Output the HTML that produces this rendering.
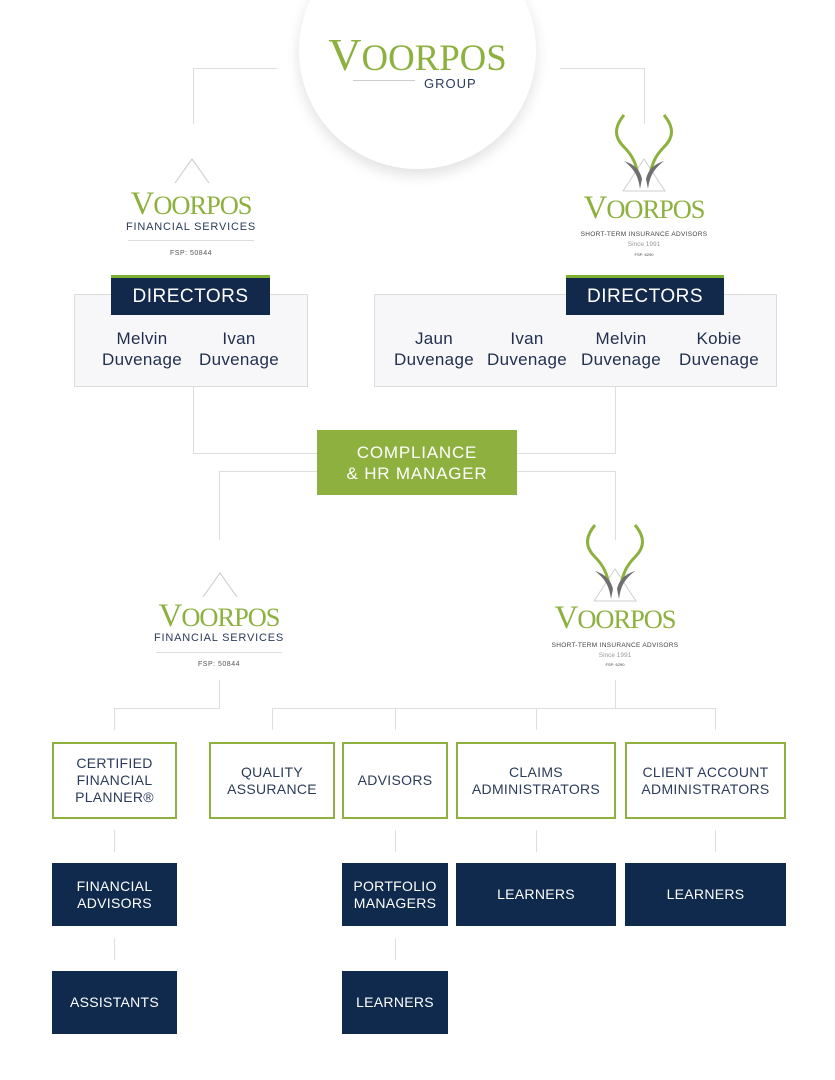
<!DOCTYPE html>
<html><head><meta charset="utf-8"><style>
body{margin:0;width:835px;height:1080px;background:#fff;position:relative;overflow:hidden;font-family:"Liberation Sans",sans-serif}
.a{position:absolute}
.l{position:absolute;background:#dedede}
.circle{position:absolute;left:299px;top:-68px;width:237px;height:237px;border-radius:50%;background:#fff;box-shadow:0 6px 14px rgba(0,0,0,0.12)}
.vp{position:absolute;font-family:"Liberation Serif",serif;color:#8db03e;text-align:center;letter-spacing:-1px;white-space:nowrap}
.vp span{font-size:0.8em}
.sm{position:absolute;text-align:center;color:#2b3b5a;white-space:nowrap}
.dbox{position:absolute;background:#f7f7f9;border:1px solid #dcdcdc}
.dh{position:absolute;background:#13294b;border-top:3px solid #7cb031;color:#fff;font-size:19px;text-align:center;line-height:37px;letter-spacing:0.5px}
.nm{position:absolute;color:#1f2f4d;font-family:"Liberation Sans Narrow","Liberation Sans",sans-serif;font-size:17px;line-height:21px;text-align:center;width:100px;letter-spacing:0.3px}
.gb{position:absolute;border:2px solid #8db03e;box-sizing:border-box;color:#2b3b5a;font-size:14px;line-height:17px;display:flex;align-items:center;justify-content:center;text-align:center;letter-spacing:0.3px}
.nb{position:absolute;background:#0f2a4c;color:#fff;font-size:14px;line-height:17px;display:flex;align-items:center;justify-content:center;text-align:center;letter-spacing:0.3px}
</style></head><body>
<div class="l" style="left:193px;top:68px;width:84px;height:1px"></div>
<div class="l" style="left:193px;top:68px;width:1px;height:56px"></div>
<div class="l" style="left:560px;top:68px;width:85px;height:1px"></div>
<div class="l" style="left:644px;top:68px;width:1px;height:56px"></div>
<div class="circle"></div>
<div class="vp" style="left:299px;width:237px;top:33px;font-size:46px;line-height:44px;letter-spacing:0">V<span>OORPOS</span></div>
<div class="a" style="left:353px;top:80px;width:62px;height:1px;background:#ccc"></div>
<div class="sm" style="left:424px;top:76px;font-size:13px;letter-spacing:1px">GROUP</div>

<svg class="a" style="left:173px;top:157px" width="38" height="28"><polyline points="2,26 19,2 36,26" fill="none" stroke="#c8c8c8" stroke-width="1"/></svg>
<div class="vp" style="left:91px;width:200px;top:188px;font-size:33px;line-height:33px">V<span>OORPOS</span></div>
<div class="sm" style="left:91px;width:200px;top:221px;font-size:11px;letter-spacing:0.8px">FINANCIAL SERVICES</div>
<div class="a" style="left:128px;top:240px;width:126px;height:1px;background:#ddd"></div>
<div class="sm" style="left:91px;width:200px;top:250px;font-size:7px;letter-spacing:0.5px;color:#555">FSP: 50844</div>

<svg class="a" style="left:604px;top:113px" width="80" height="82" viewBox="0 0 80 82">
<polyline points="19,78 40,46 61,78 19,78" fill="none" stroke="#cfcfcf" stroke-width="1"/>
<path d="M20,2 C10,14 10,24 20,34 C28,42 32,50 34,62" fill="none" stroke="#8db03e" stroke-width="3"/>
<path d="M60,2 C70,14 70,24 60,34 C52,42 48,50 46,62" fill="none" stroke="#8db03e" stroke-width="3"/>
<path d="M20,48 C30,56 34,62 36,76 L38,66 C36,58 32,52 20,48Z" fill="#6f6f6f"/>
<path d="M60,48 C50,56 46,62 44,76 L42,66 C44,58 48,52 60,48Z" fill="#6f6f6f"/>
</svg>
<div class="vp" style="left:544px;width:200px;top:192px;font-size:33px;line-height:33px">V<span>OORPOS</span></div>
<div class="sm" style="left:544px;width:200px;top:231px;font-size:6.5px;letter-spacing:0.3px;color:#444">SHORT-TERM INSURANCE ADVISORS</div>
<div class="sm" style="left:544px;width:200px;top:241px;font-size:6.5px;color:#999">Since 1991</div>
<div class="sm" style="left:544px;width:200px;top:252px;font-size:4px;color:#444">FSP: 6290</div>

<div class="dbox" style="left:74px;top:294px;width:232px;height:91px"></div>
<div class="dh" style="left:111px;top:275px;width:159px;height:37px">DIRECTORS</div>
<div class="nm" style="left:92px;top:328px">Melvin<br>Duvenage</div>
<div class="nm" style="left:189px;top:328px">Ivan<br>Duvenage</div>
<div class="dbox" style="left:374px;top:294px;width:401px;height:91px"></div>
<div class="dh" style="left:566px;top:275px;width:158px;height:37px">DIRECTORS</div>
<div class="nm" style="left:384px;top:328px">Jaun<br>Duvenage</div>
<div class="nm" style="left:477px;top:328px">Ivan<br>Duvenage</div>
<div class="nm" style="left:571px;top:328px">Melvin<br>Duvenage</div>
<div class="nm" style="left:669px;top:328px">Kobie<br>Duvenage</div>

<div class="l" style="left:193px;top:386px;width:1px;height:67px"></div>
<div class="l" style="left:193px;top:453px;width:124px;height:1px"></div>
<div class="l" style="left:615px;top:386px;width:1px;height:67px"></div>
<div class="l" style="left:517px;top:453px;width:99px;height:1px"></div>
<div class="l" style="left:219px;top:471px;width:98px;height:1px"></div>
<div class="l" style="left:219px;top:471px;width:1px;height:69px"></div>
<div class="l" style="left:517px;top:471px;width:99px;height:1px"></div>
<div class="l" style="left:615px;top:471px;width:1px;height:69px"></div>
<div class="a" style="left:317px;top:430px;width:200px;height:65px;background:#8db03e;color:#fff;font-size:17px;line-height:21px;text-align:center;display:flex;align-items:center;justify-content:center;letter-spacing:0.8px">COMPLIANCE<br>&amp; HR MANAGER</div>

<svg class="a" style="left:201px;top:571px" width="38" height="28"><polyline points="2,26 19,2 36,26" fill="none" stroke="#c8c8c8" stroke-width="1"/></svg>
<div class="vp" style="left:119px;width:200px;top:600px;font-size:33px;line-height:33px">V<span>OORPOS</span></div>
<div class="sm" style="left:119px;width:200px;top:632px;font-size:11px;letter-spacing:0.8px">FINANCIAL SERVICES</div>
<div class="a" style="left:156px;top:652px;width:126px;height:1px;background:#ddd"></div>
<div class="sm" style="left:119px;width:200px;top:661px;font-size:7px;letter-spacing:0.5px;color:#555">FSP: 50844</div>

<svg class="a" style="left:575px;top:523px" width="80" height="82" viewBox="0 0 80 82">
<polyline points="19,78 40,46 61,78 19,78" fill="none" stroke="#cfcfcf" stroke-width="1"/>
<path d="M20,2 C10,14 10,24 20,34 C28,42 32,50 34,62" fill="none" stroke="#8db03e" stroke-width="3"/>
<path d="M60,2 C70,14 70,24 60,34 C52,42 48,50 46,62" fill="none" stroke="#8db03e" stroke-width="3"/>
<path d="M20,48 C30,56 34,62 36,76 L38,66 C36,58 32,52 20,48Z" fill="#6f6f6f"/>
<path d="M60,48 C50,56 46,62 44,76 L42,66 C44,58 48,52 60,48Z" fill="#6f6f6f"/>
</svg>
<div class="vp" style="left:515px;width:200px;top:602px;font-size:33px;line-height:33px">V<span>OORPOS</span></div>
<div class="sm" style="left:515px;width:200px;top:642px;font-size:6.5px;letter-spacing:0.3px;color:#444">SHORT-TERM INSURANCE ADVISORS</div>
<div class="sm" style="left:515px;width:200px;top:652px;font-size:6.5px;color:#999">Since 1991</div>
<div class="sm" style="left:515px;width:200px;top:662px;font-size:4px;color:#444">FSP: 6290</div>

<div class="l" style="left:219px;top:680px;width:1px;height:28px"></div>
<div class="l" style="left:114px;top:708px;width:106px;height:1px"></div>
<div class="l" style="left:114px;top:708px;width:1px;height:22px"></div>
<div class="l" style="left:615px;top:680px;width:1px;height:28px"></div>
<div class="l" style="left:272px;top:708px;width:444px;height:1px"></div>
<div class="l" style="left:272px;top:708px;width:1px;height:22px"></div>
<div class="l" style="left:395px;top:708px;width:1px;height:22px"></div>
<div class="l" style="left:536px;top:708px;width:1px;height:22px"></div>
<div class="l" style="left:715px;top:708px;width:1px;height:22px"></div>

<div class="gb" style="left:52px;top:742px;width:125px;height:77px">CERTIFIED<br>FINANCIAL<br>PLANNER®</div>
<div class="gb" style="left:209px;top:742px;width:126px;height:77px">QUALITY<br>ASSURANCE</div>
<div class="gb" style="left:342px;top:742px;width:106px;height:77px">ADVISORS</div>
<div class="gb" style="left:456px;top:742px;width:160px;height:77px">CLAIMS<br>ADMINISTRATORS</div>
<div class="gb" style="left:625px;top:742px;width:161px;height:77px">CLIENT ACCOUNT<br>ADMINISTRATORS</div>

<div class="l" style="left:114px;top:830px;width:1px;height:22px"></div>
<div class="l" style="left:395px;top:830px;width:1px;height:22px"></div>
<div class="l" style="left:536px;top:830px;width:1px;height:22px"></div>
<div class="l" style="left:715px;top:830px;width:1px;height:22px"></div>

<div class="nb" style="left:52px;top:863px;width:125px;height:63px">FINANCIAL<br>ADVISORS</div>
<div class="nb" style="left:342px;top:863px;width:106px;height:63px">PORTFOLIO<br>MANAGERS</div>
<div class="nb" style="left:456px;top:863px;width:160px;height:63px">LEARNERS</div>
<div class="nb" style="left:625px;top:863px;width:161px;height:63px">LEARNERS</div>

<div class="l" style="left:114px;top:938px;width:1px;height:22px"></div>
<div class="l" style="left:395px;top:938px;width:1px;height:22px"></div>

<div class="nb" style="left:52px;top:971px;width:125px;height:63px">ASSISTANTS</div>
<div class="nb" style="left:342px;top:971px;width:106px;height:63px">LEARNERS</div>
</body></html>
